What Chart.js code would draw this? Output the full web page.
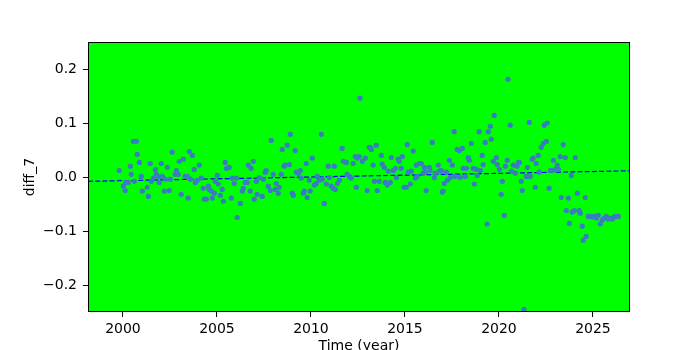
<!DOCTYPE html>
<html>
<head>
<meta charset="utf-8">
<script src="https://cdn.jsdelivr.net/npm/chart.js@4"></script>
<style>
  html, body { margin: 0; padding: 0; background: #fff; overflow: hidden; }
</style>
</head>
<body>
<canvas id="myChart" width="700" height="350"></canvas>
<script>
const years = [
  1999.80, 2000.02, 2000.12, 2000.16, 2000.28, 2000.39, 2000.44, 2000.55, 2000.71, 2000.60,
  2000.76, 2000.87, 2000.97, 2001.03, 2001.29, 2001.35, 2001.45, 2001.51, 2001.61, 2001.72,
  2001.77, 2001.88, 2001.93, 2002.04, 2002.09, 2002.20, 2002.25, 2002.36, 2002.46, 2002.52,
  2002.62, 2002.78, 2002.94, 2002.84, 2002.99, 2003.10, 2003.21, 2003.31, 2003.42, 2003.47,
  2003.53, 2003.58, 2003.69, 2003.79, 2003.85, 2003.95, 2004.06, 2004.16, 2004.27, 2004.32,
  2004.43, 2004.54, 2004.59, 2004.70, 2004.75, 2004.86, 2004.91, 2005.02, 2005.07, 2005.18,
  2005.28, 2005.34, 2005.44, 2005.50, 2005.65, 2005.76, 2005.81, 2005.92, 2006.08, 2006.03,
  2006.24, 2006.35, 2006.40, 2006.51, 2006.61, 2006.67, 2006.77, 2006.82, 2006.93, 2006.98,
  2007.09, 2007.14, 2007.25, 2007.41, 2007.46, 2007.57, 2007.62, 2007.73, 2007.84, 2007.89,
  2007.99, 2008.10, 2008.15, 2008.26, 2008.31, 2008.42, 2008.47, 2008.58, 2008.63, 2008.74,
  2008.85, 2008.90, 2009.01, 2009.06, 2009.16, 2009.22, 2009.32, 2009.43, 2009.48, 2009.59,
  2009.64, 2009.75, 2009.80, 2009.91, 2009.96, 2010.07, 2010.18, 2010.28, 2010.34, 2010.44,
  2010.55, 2010.60, 2010.71, 2010.82, 2010.92, 2010.97, 2011.08, 2011.19, 2011.24, 2011.29,
  2011.40, 2011.51, 2011.66, 2011.72, 2011.88, 2011.93, 2012.04, 2012.14, 2012.25, 2012.36,
  2012.46, 2012.57, 2012.41, 2012.61, 2012.73, 2012.89, 2012.99, 2013.10, 2013.15, 2013.21,
  2013.31, 2013.37, 2013.47, 2013.53, 2013.63, 2013.74, 2013.79, 2013.90, 2013.95, 2014.06,
  2014.22, 2014.11, 2014.27, 2014.38, 2014.49, 2014.54, 2014.64, 2014.70, 2014.80, 2014.86,
  2014.96, 2015.07, 2015.12, 2015.18, 2015.28, 2015.34, 2015.44, 2015.55, 2015.65, 2015.60,
  2015.76, 2015.87, 2015.97, 2016.08, 2016.03, 2016.13, 2016.29, 2016.34, 2016.45, 2016.56,
  2016.61, 2016.77, 2016.83, 2016.93, 2016.98, 2017.04, 2017.09, 2017.20, 2017.25, 2017.36,
  2017.41, 2017.52, 2017.62, 2017.68, 2017.78, 2017.89, 2018.05, 2017.94, 2018.10, 2018.26,
  2018.21, 2018.37, 2018.42, 2018.53, 2018.63, 2018.79, 2018.69, 2018.85, 2018.95, 2019.01,
  2019.11, 2019.16, 2019.27, 2019.37, 2019.43, 2019.54, 2019.59, 2019.70, 2019.75, 2019.86,
  2019.91, 2020.02, 2020.12, 2020.18, 2020.28, 2020.34, 2020.44, 2020.48, 2020.60, 2020.66,
  2020.76, 2020.87, 2020.96, 2021.03, 2021.08, 2021.19, 2021.24, 2021.33, 2021.45, 2021.51,
  2021.61, 2021.66, 2021.77, 2021.82, 2021.93, 2021.98, 2022.09, 2022.14, 2022.25, 2022.36,
  2022.41, 2022.52, 2022.57, 2022.67, 2022.73, 2022.84, 2022.89, 2023.00, 2023.10, 2023.16,
  2023.26, 2023.31, 2023.42, 2023.53, 2023.58, 2023.69, 2023.74, 2023.85, 2023.90, 2024.01,
  2024.06, 2024.17, 2024.27, 2024.32, 2024.43, 2024.48, 2024.59, 2024.64, 2024.75, 2024.86,
  2024.96, 2025.07, 2025.18, 2025.28, 2025.39, 2025.49, 2025.60, 2025.71, 2025.81, 2025.92,
  2026.03, 2026.13, 2026.24, 2026.35
];
const diff7 = [
  0.012, -0.017, -0.025, -0.010, -0.010, 0.020, 0.005, 0.066, 0.066, -0.008,
  0.042, 0.027, 0.001, -0.026, -0.019, -0.036, 0.025, -0.008, -0.002, 0.014,
  0.005, 0.001, -0.010, 0.025, 0.001, -0.026, -0.004, 0.018, -0.025, -0.004,
  0.046, 0.005, 0.005, 0.012, 0.029, -0.032, 0.033, 0.001, 0.001, -0.039,
  0.047, -0.004, 0.040, 0.014, -0.010, -0.006, 0.022, -0.002, -0.021, -0.041,
  -0.041, -0.017, -0.023, -0.026, -0.039, -0.030, -0.008, 0.003, -0.013, -0.034,
  -0.023, -0.045, 0.027, 0.016, 0.018, -0.039, -0.002, -0.012, -0.075, -0.002,
  -0.049, -0.026, -0.021, -0.010, -0.010, 0.022, -0.026, 0.016, 0.029, -0.041,
  -0.008, -0.032, -0.001, -0.036, -0.004, 0.009, 0.012, -0.017, -0.025, 0.068,
  0.005, -0.023, -0.012, -0.030, -0.019, 0.005, 0.051, 0.020, 0.022, 0.059,
  0.023, 0.079, -0.030, -0.034, 0.049, 0.009, 0.007, 0.012, -0.002, -0.030,
  -0.026, 0.025, -0.038, -0.006, -0.026, 0.035, -0.015, -0.012, 0.001, -0.006,
  0.079, -0.004, -0.049, -0.013, 0.020, -0.001, -0.017, -0.021, 0.020, -0.023,
  -0.012, -0.006, 0.053, 0.029, 0.027, 0.005, 0.001, -0.002, 0.025, 0.038,
  0.035, 0.038, -0.019, 0.146, 0.029, 0.035, -0.025, 0.055, 0.055, 0.051,
  0.022, -0.008, 0.059, -0.025, -0.008, 0.040, 0.024, 0.018, -0.010, -0.015,
  -0.010, 0.011, 0.036, 0.012, 0.016, -0.001, 0.033, 0.029, 0.016, 0.038,
  -0.019, -0.019, 0.060, 0.009, -0.013, 0.011, 0.048, -0.002, 0.001, 0.022,
  0.025, 0.025, 0.007, 0.009, 0.018, -0.025, 0.018, 0.012, 0.064, -0.001,
  0.007, 0.022, 0.011, 0.012, -0.028, -0.026, -0.012, 0.009, -0.006, 0.031,
  -0.001, 0.022, 0.084, 0.001, 0.051, 0.049, 0.053, -0.001, 0.016, 0.016,
  0.001, 0.036, 0.031, 0.062, 0.016, 0.014, -0.013, 0.003, 0.084, 0.012,
  0.040, 0.023, 0.064, -0.087, 0.084, 0.094, 0.070, 0.029, 0.114, 0.036,
  0.023, 0.014, -0.032, -0.008, -0.071, 0.020, 0.031, 0.181, 0.096, 0.011,
  0.022, 0.007, 0.020, 0.027, 0.027, -0.008, -0.025, -0.245, 0.001, 0.018,
  0.101, 0.001, 0.033, 0.035, -0.019, 0.025, 0.040, 0.009, 0.055, 0.062,
  0.096, 0.066, 0.100, -0.021, 0.012, 0.012, 0.031, 0.014, 0.022, 0.014,
  0.038, -0.038, 0.060, 0.036, -0.062, -0.039, -0.086, 0.003, -0.065, -0.062,
  0.036, -0.030, -0.062, -0.067, -0.091, -0.117, -0.038, -0.110, -0.073, -0.073,
  -0.074, -0.073, -0.076, -0.071, -0.087, -0.080, -0.076, -0.073, -0.078, -0.076,
  -0.078, -0.074, -0.073, -0.073
];

// fitted trend, drawn across the full x range
const trendYears = [1998.14, 2026.97];
const trendValues = [-0.008, 0.0115];

const xTicks = [2000, 2005, 2010, 2015, 2020, 2025];
const yTicks = [-0.2, -0.1, 0.0, 0.1, 0.2];

const points = years.map((t, i) => ({ x: t, y: diff7[i] }));
const trend = trendYears.map((t, i) => ({ x: t, y: trendValues[i] }));

Chart.defaults.font.family = "'DejaVu Sans', sans-serif";
Chart.defaults.font.size = 14;
Chart.defaults.color = '#000';

const frame = {
  id: 'frame',
  beforeDraw(chart) {
    const { ctx, chartArea: a } = chart;
    ctx.save();
    ctx.fillStyle = '#00ff00';
    ctx.fillRect(a.left, a.top, a.right - a.left, a.bottom - a.top);
    ctx.restore();
  },
  afterDraw(chart) {
    const { ctx, chartArea: a } = chart;
    ctx.save();
    ctx.strokeStyle = '#000';
    ctx.lineWidth = 1;
    ctx.strokeRect(a.left + 0.5, a.top + 0.5, a.right - a.left - 1, a.bottom - a.top - 1);
    ctx.restore();
  }
};

const ctx = document.getElementById('myChart').getContext('2d');
const myChart = new Chart(ctx, {
  type: 'scatter',
  data: {
    datasets: [{
      label: 'diff_7',
      data: points,
      backgroundColor: '#3a7cc0',
      borderWidth: 0,
      pointRadius: 2.6
    }, {
      label: 'trend',
      data: trend,
      showLine: true,
      borderColor: '#0000ff',
      borderWidth: 1.2,
      borderDash: [5, 2.2],
      pointRadius: 0
    }]
  },
  options: {
    responsive: false,
    animation: false,
    layout: { padding: { top: 42, right: 70, left: 0, bottom: 0 } },
    plugins: { legend: { display: false }, tooltip: { enabled: false } },
    scales: {
      x: {
        type: 'linear',
        min: 1998.14,
        max: 2026.97,
        afterBuildTicks: s => { s.ticks = xTicks.map(v => ({ value: v })); },
        afterFit: s => { s.height = 38; },
        ticks: { padding: 4, maxRotation: 0, callback: v => String(v) },
        grid: { drawOnChartArea: false, tickLength: 5, tickColor: '#000' },
        border: { display: false },
        title: { display: true, text: 'Time (year)', padding: { top: 0, bottom: -5 } }
      },
      y: {
        min: -0.25,
        max: 0.25,
        afterBuildTicks: s => { s.ticks = yTicks.map(v => ({ value: v })); },
        afterFit: s => { s.width = 88; },
        ticks: {
          padding: 6,
          callback: v => (v < -1e-9 ? '\u2212' : '') + Math.abs(v).toFixed(1)
        },
        grid: { drawOnChartArea: false, tickLength: 5, tickColor: '#000' },
        border: { display: false },
        title: { display: true, text: 'diff_7', padding: { top: 21.7, bottom: 0 } }
      }
    }
  },
  plugins: [frame]
});
</script>
</body>
</html>
